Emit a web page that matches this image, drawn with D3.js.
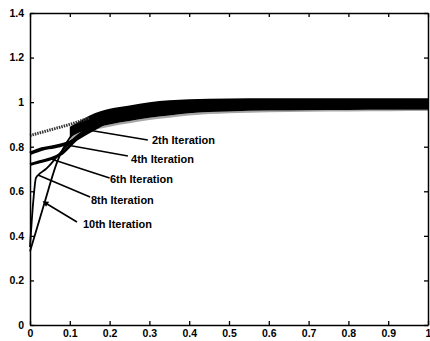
<!DOCTYPE html>
<html><head><meta charset="utf-8">
<script src="https://cdn.jsdelivr.net/npm/d3@7"></script>
<style>
body{margin:0;background:#fff}
svg{display:block}
text{font-family:"Liberation Sans",Arial,sans-serif;fill:#000}
</style>
</head><body>
<svg id="c" width="430" height="341"></svg>
<script>
// ---- data ----
const xTicks=[0,0.1,0.2,0.3,0.4,0.5,0.6,0.7,0.8,0.9,1];
const xTickLabels=["0","0.1","0.2","0.3","0.4","0.5","0.6","0.7","0.8","0.9","1"];
const yTicks=[0,0.2,0.4,0.6,0.8,1,1.2,1.4];
const yTickLabels=["0","0.2","0.4","0.6","0.8","1","1.2","1.4"];

// converged band (envelope of all iterations)
const bandX    =[0.10,0.12,0.15,0.2,0.25,0.3,0.35,0.4,0.5,0.6,0.7,0.8,0.9,1.0];
const bandUpper=[0.89,0.91,0.94,0.97,0.985,1.0,1.008,1.013,1.016,1.017,1.018,1.018,1.018,1.018];
const bandLower=[0.84,0.86,0.88,0.90,0.915,0.93,0.94,0.95,0.958,0.962,0.964,0.965,0.966,0.966];
// speckled lower fringe of the band
const fringeLower=[0.83,0.85,0.87,0.89,0.905,0.92,0.93,0.94,0.95,0.955,0.957,0.958,0.959,0.96];

// early parts of each iteration curve
const iter2X =[0,0.03,0.07,0.1,0.15];
const iter2Y =[0.85,0.865,0.885,0.90,0.93];
const iter4X =[0,0.03,0.06,0.1,0.15,0.2];
const iter4Y =[0.77,0.79,0.80,0.82,0.87,0.92];
const iter6X =[0,0.02,0.05,0.08,0.12,0.18];
const iter6Y =[0.72,0.73,0.745,0.77,0.84,0.91];
const iter8X =[0,0.008,0.015,0.025,0.04,0.07,0.1,0.15];
const iter8Y =[0.35,0.55,0.66,0.68,0.70,0.76,0.82,0.89];
const iter10X=[0,0.035,0.07,0.1,0.13];
const iter10Y=[0.33,0.54,0.74,0.84,0.89];

const labels=["2th Iteration","4th Iteration","6th Iteration","8th Iteration","10th Iteration"];
const leaderFrom=[[0.146,0.875],[0.093,0.808],[0.053,0.745],[0.02,0.673],[0.043,0.543]];
const leaderTo  =[[0.296,0.83],[0.246,0.758],[0.2,0.66],[0.151,0.574],[0.118,0.462]];
const labelAt   =[[0.3065,0.812],[0.254,0.727],[0.201,0.637],[0.153,0.543],[0.133,0.435]];

// ---- chart ----
const svg=d3.select("#c");
const x=d3.scaleLinear().domain([0,1]).range([30,428]);
const y=d3.scaleLinear().domain([0,1.4]).range([325,13]);

const band=bandX.map((v,i)=>({x:v,u:bandUpper[i],l:bandLower[i],f:fringeLower[i]}));
svg.append("path").datum(band)
  .attr("d",d3.area().x(d=>x(d.x)).y0(d=>y(d.f)).y1(d=>y(d.l)).curve(d3.curveMonotoneX))
  .attr("fill","#000").attr("fill-opacity",0.35);
svg.append("path").datum(band)
  .attr("d",d3.area().x(d=>x(d.x)).y0(d=>y(d.l)).y1(d=>y(d.u)).curve(d3.curveMonotoneX))
  .attr("fill","#000");

const line=d3.line().x(d=>x(d[0])).y(d=>y(d[1])).curve(d3.curveMonotoneX);
const curves=[
  {xs:iter2X,ys:iter2Y,w:3,dash:"1.5,1",c:"#333"},
  {xs:iter4X,ys:iter4Y,w:3.5,dash:null,c:"#000"},
  {xs:iter6X,ys:iter6Y,w:3,dash:null,c:"#000"},
  {xs:iter8X,ys:iter8Y,w:1.8,dash:null,c:"#000"},
  {xs:iter10X,ys:iter10Y,w:1.8,dash:null,c:"#000"}
];
curves.forEach(c=>{
  const p=svg.append("path").datum(c.xs.map((v,i)=>[v,c.ys[i]]))
    .attr("d",line).attr("fill","none").attr("stroke",c.c).attr("stroke-width",c.w);
  if(c.dash) p.attr("stroke-dasharray",c.dash);
});

svg.append("defs").append("marker").attr("id","ah")
  .attr("viewBox","0 0 10 10").attr("refX",1).attr("refY",5)
  .attr("markerWidth",7).attr("markerHeight",6).attr("markerUnits","userSpaceOnUse")
  .attr("orient","auto-start-reverse")
  .append("path").attr("d","M0,0 L10,5 L0,10 Z").attr("fill","#000");

labels.forEach((t,i)=>{
  const l=svg.append("line")
    .attr("x1",x(leaderFrom[i][0])).attr("y1",y(leaderFrom[i][1]))
    .attr("x2",x(leaderTo[i][0])).attr("y2",y(leaderTo[i][1]))
    .attr("stroke","#000").attr("stroke-width",1.6);
  if(i===4) l.attr("marker-start","url(#ah)");
  svg.append("text").attr("x",x(labelAt[i][0])).attr("y",y(labelAt[i][1]))
    .attr("font-size",11).attr("font-weight","bold").text(t);
});

function style(g){
  g.select(".domain").attr("stroke","#000").attr("stroke-width",1.5).attr("fill","none");
  g.selectAll(".tick line").attr("stroke","#000").attr("stroke-width",1.3);
  g.selectAll(".tick text").attr("font-size",10.5).attr("font-weight","bold")
    .attr("font-family","'Liberation Sans',Arial,sans-serif").attr("fill","#000");
}
svg.append("g").attr("transform","translate(0,325)")
  .call(d3.axisBottom(x).tickValues(xTicks).tickFormat((d,i)=>xTickLabels[i]).tickSize(-4).tickPadding(5).tickSizeOuter(0))
  .call(style);
svg.append("g").attr("transform","translate(0,13)")
  .call(d3.axisTop(x).tickValues(xTicks).tickFormat("").tickSize(-4).tickSizeOuter(0))
  .call(style);
svg.append("g").attr("transform","translate(30,0)")
  .call(d3.axisLeft(y).tickValues(yTicks).tickFormat((d,i)=>yTickLabels[i]).tickSize(-4).tickPadding(6).tickSizeOuter(0))
  .call(style);
svg.append("g").attr("transform","translate(428,0)")
  .call(d3.axisRight(y).tickValues(yTicks).tickFormat("").tickSize(-4).tickSizeOuter(0))
  .call(style);
</script>
</body></html>
